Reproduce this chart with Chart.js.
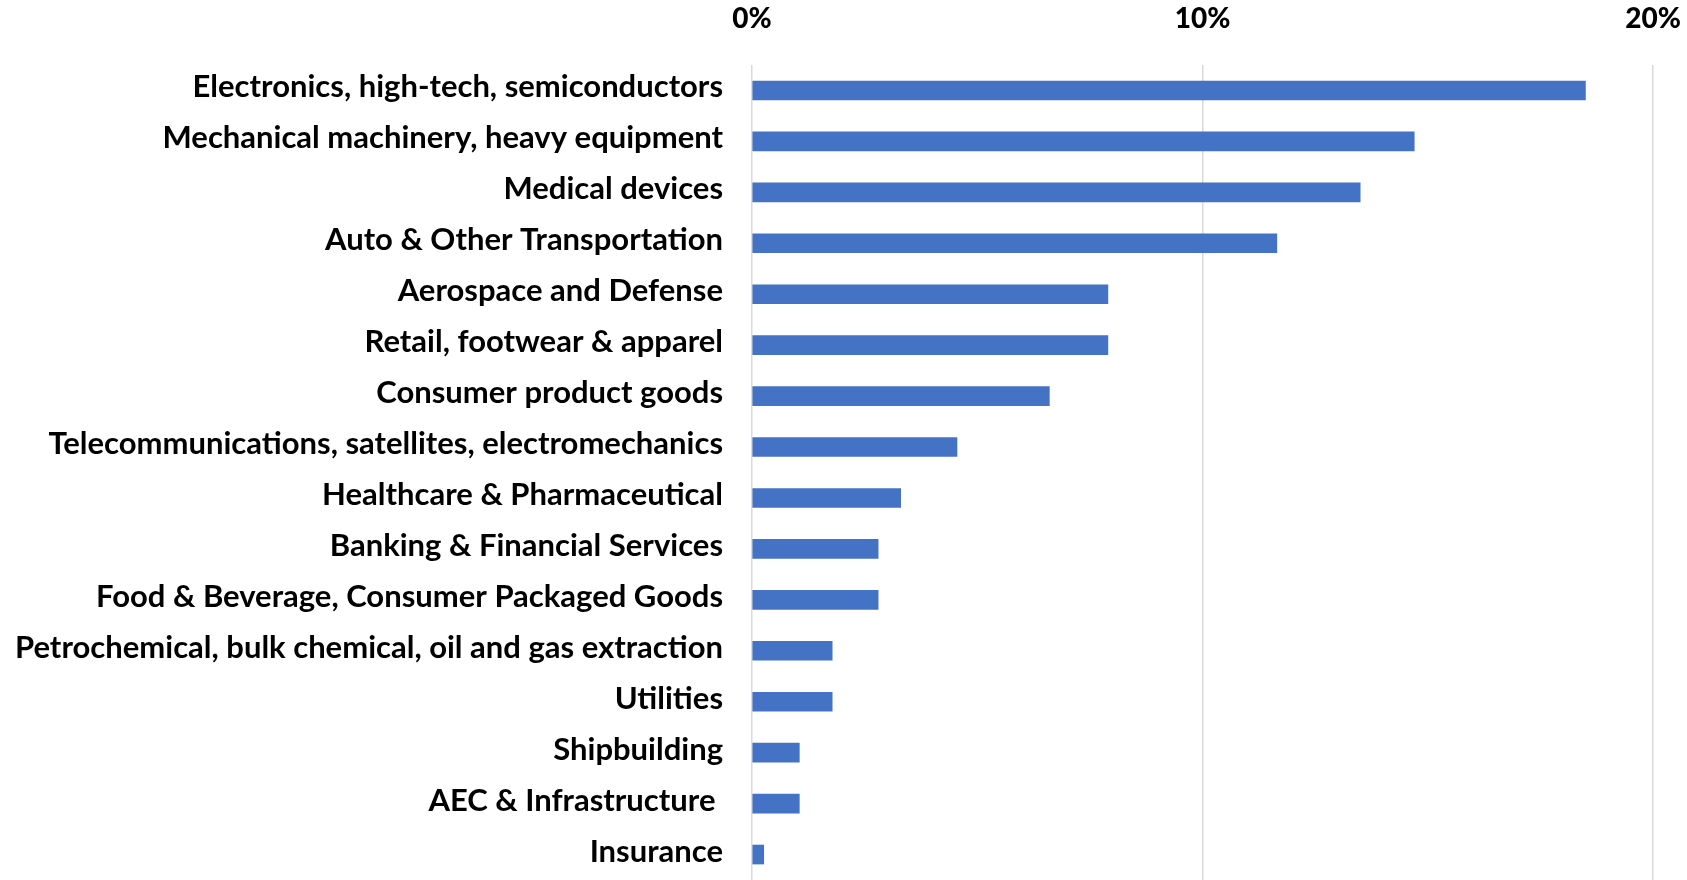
<!DOCTYPE html>
<html>
<head>
<meta charset="utf-8">
<script src="https://cdn.jsdelivr.net/npm/chart.js@4"></script>
<style>
html,body{margin:0;padding:0;background:#fff;}
#wrap{width:1687px;height:880px;position:relative;}
</style>
</head>
<body>
<div id="wrap"><canvas id="c"></canvas></div>
<script>
const categories = [
  "Electronics, high-tech, semiconductors",
  "Mechanical machinery, heavy equipment",
  "Medical devices",
  "Auto & Other Transportation",
  "Aerospace and Defense",
  "Retail, footwear & apparel",
  "Consumer product goods",
  "Telecommunications, satellites, electromechanics",
  "Healthcare & Pharmaceutical",
  "Banking & Financial Services",
  "Food & Beverage, Consumer Packaged Goods",
  "Petrochemical, bulk chemical, oil and gas extraction",
  "Utilities",
  "Shipbuilding",
  "AEC & Infrastructure ",
  "Insurance"
];
const shares = [18.5, 14.7, 13.5, 11.65, 7.9, 7.9, 6.6, 4.55, 3.3, 2.8, 2.8, 1.78, 1.78, 1.05, 1.05, 0.26];
const tickValues = [0, 10, 20];

const FONT = "Lato, 'Open Sans', sans-serif";

new Chart(document.getElementById('c'), {
  type: 'bar',
  data: {
    labels: categories,
    datasets: [{
      data: shares,
      backgroundColor: '#4472C4',
      borderWidth: 0,
      barThickness: 19
    }]
  },
  options: {
    indexAxis: 'y',
    responsive: true,
    maintainAspectRatio: false,
    animation: false,
    layout: { padding: { top: 0, right: 34, bottom: 0, left: 0 } },
    plugins: { legend: { display: false }, tooltip: { enabled: false } },
    scales: {
      x: {
        position: 'top',
        min: 0, max: 20,
        afterBuildTicks: (s) => { s.ticks = tickValues.map(v => ({ value: v })); },
        afterFit: (s) => { s.height = 65; s.paddingLeft = 0; s.paddingRight = 0; },
        grid: { color: '#d9d9d9', lineWidth: 1.5, drawTicks: false },
        border: { display: false },
        ticks: {
          padding: 29,
          color: '#000',
          font: { family: FONT, size: 28, weight: '900' },
          callback: (v) => v + '%'
        }
      },
      y: {
        afterFit: (s) => { s.width = 752; s.paddingTop = 0; s.paddingBottom = 0; },
        grid: { display: false, drawTicks: false },
        border: { display: false },
        ticks: {
          padding: 29,
          labelOffset: -3,
          color: '#000',
          autoSkip: false,
          font: { family: FONT, size: 31, weight: 'bold' }
        }
      }
    }
  }
});
</script>
</body>
</html>
